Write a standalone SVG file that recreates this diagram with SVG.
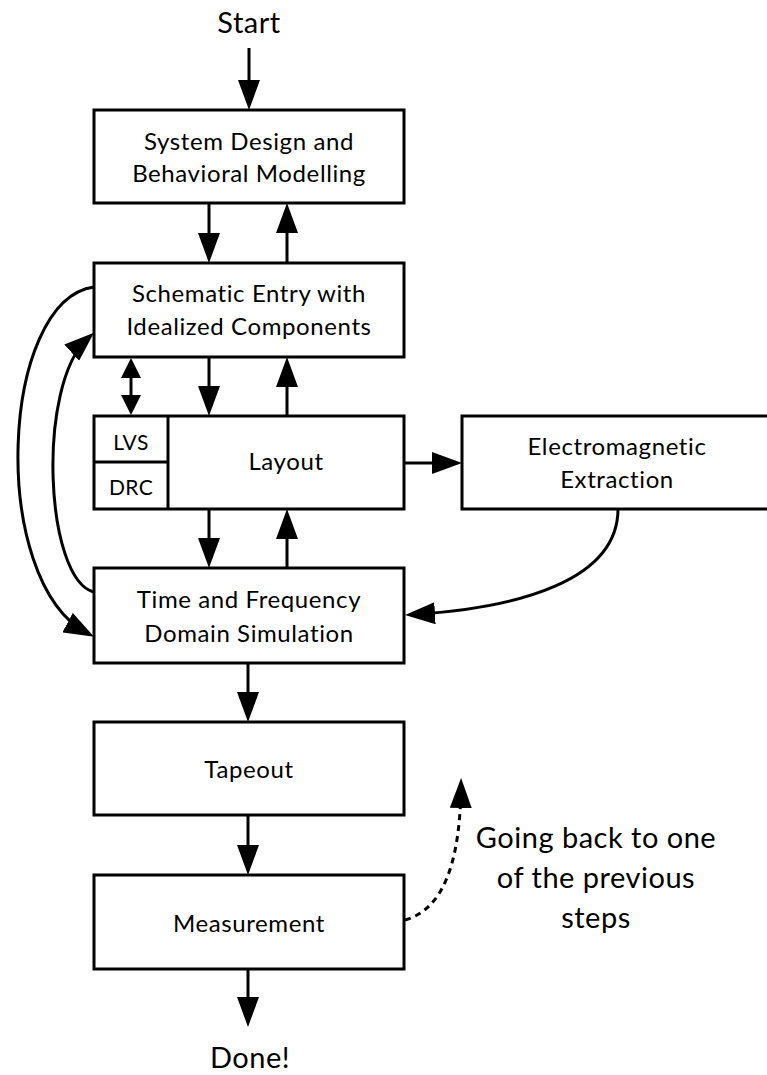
<svg xmlns="http://www.w3.org/2000/svg" width="767" height="1075" viewBox="0 0 767 1075">
  <style>
    .box { fill: #fff; stroke: #000; stroke-width: 3; }
    .div { fill: none; stroke: #000; stroke-width: 3; }
    .lbl { font-family: Lato, "Open Sans", "Liberation Sans", sans-serif; font-size: 24px; letter-spacing: 0.6px; fill: #000; text-anchor: middle; }
    .small { font-size: 21px; letter-spacing: 0.4px; }
    .big { font-size: 29px; letter-spacing: 0.5px; }
    .edge { fill: none; stroke: #000; stroke-width: 3; }
    .dots { stroke-dasharray: 6 5; }
  </style>
  <defs>
    <marker id="head" markerUnits="userSpaceOnUse" markerWidth="30" markerHeight="22" refX="22" refY="11" orient="auto">
      <path d="M0,0 L30,11 L0,22 Z" fill="#000"/>
    </marker>
    <marker id="headS" markerUnits="userSpaceOnUse" markerWidth="20" markerHeight="20" refX="14" refY="10" orient="auto">
      <path d="M0,0 L20,10 L0,20 Z" fill="#000"/>
    </marker>
    <marker id="headStart" markerUnits="userSpaceOnUse" markerWidth="20" markerHeight="20" refX="6" refY="10" orient="auto">
      <path d="M20,0 L0,10 L20,20 Z" fill="#000"/>
    </marker>
  </defs>

  <!-- free labels -->
  <text class="lbl big" x="249" y="33">Start</text>
  <text class="lbl big" x="250" y="1068">Done!</text>
  <g id="note">
    <text class="lbl big" x="596" y="848">Going back to one</text>
    <text class="lbl big" x="596" y="888">of the previous</text>
    <text class="lbl big" x="596" y="928">steps</text>
  </g>

  <g id="system-design">
    <rect class="box" x="94" y="110" width="310" height="93"/>
    <text class="lbl" x="249" y="150">System Design and</text>
    <text class="lbl" x="249" y="182">Behavioral Modelling</text>
  </g>

  <g id="schematic">
    <rect class="box" x="94" y="263" width="310" height="94"/>
    <text class="lbl" x="249" y="302">Schematic Entry with</text>
    <text class="lbl" x="249" y="335">Idealized Components</text>
  </g>

  <g id="layout">
    <rect class="box" x="94" y="416" width="310" height="93"/>
    <path class="div" d="M168,416 V509 M94,462 H168"/>
    <text class="lbl small" x="131" y="450">LVS</text>
    <text class="lbl small" x="131" y="495">DRC</text>
    <text class="lbl" x="286" y="470">Layout</text>
  </g>

  <g id="em-extraction">
    <rect class="box" x="462" y="416" width="310" height="93"/>
    <text class="lbl" x="617" y="455">Electromagnetic</text>
    <text class="lbl" x="617" y="488">Extraction</text>
  </g>

  <g id="simulation">
    <rect class="box" x="94" y="568" width="310" height="95"/>
    <text class="lbl" x="249" y="608">Time and Frequency</text>
    <text class="lbl" x="249" y="642">Domain Simulation</text>
  </g>

  <g id="tapeout">
    <rect class="box" x="94" y="722" width="310" height="93"/>
    <text class="lbl" x="249" y="778">Tapeout</text>
  </g>

  <g id="measurement">
    <rect class="box" x="94" y="875" width="310" height="94"/>
    <text class="lbl" x="249" y="932">Measurement</text>
  </g>

  <g id="connectors">
    <!-- main flow -->
    <path class="edge" marker-end="url(#head)" d="M249,48 V102"/>
    <path class="edge" marker-end="url(#head)" d="M209,203 V255"/>
    <path class="edge" marker-end="url(#head)" d="M287,263 V211"/>
    <path class="edge" marker-start="url(#headStart)" marker-end="url(#headS)" d="M131,364 V409"/>
    <path class="edge" marker-end="url(#head)" d="M209,357 V408"/>
    <path class="edge" marker-end="url(#head)" d="M287,416 V365"/>
    <path class="edge" marker-end="url(#head)" d="M404,463 H454"/>
    <path class="edge" marker-end="url(#head)" d="M209,509 V560"/>
    <path class="edge" marker-end="url(#head)" d="M287,568 V517"/>
    <path class="edge" marker-end="url(#head)" d="M248,663 V714"/>
    <path class="edge" marker-end="url(#head)" d="M248,815 V867"/>
    <path class="edge" marker-end="url(#head)" d="M248,969 V1019"/>
    <!-- feedback loops -->
    <path class="edge" marker-end="url(#head)" d="M618,509 C618,580 520,608 413,614.5"/>
    <path class="edge" marker-end="url(#head)" d="M94,287 C0,300 -12,580 87,633"/>
    <path class="edge" marker-end="url(#head)" d="M94,592 C45,580 36,385 88,338"/>
    <path class="edge dots" marker-end="url(#head)" d="M405,920 C440,910 460,870 461,786"/>
  </g>
</svg>
